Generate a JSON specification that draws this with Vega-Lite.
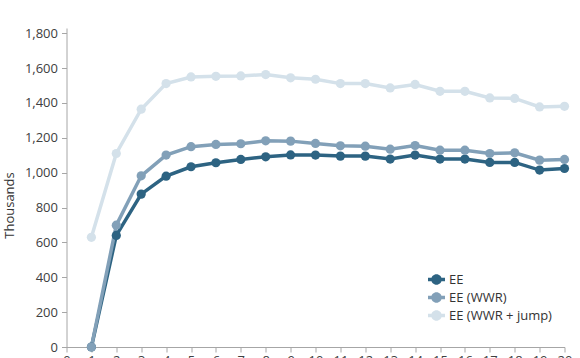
{
  "$schema": "https://vega.github.io/schema/vega-lite/v6.json",
  "width": 498,
  "height": 319,
  "autosize": "none",
  "padding": {"left": 66.5, "top": 28, "right": 15.5, "bottom": 11},
  "config": {"view": {"stroke": null}, "font": "Open Sans"},
  "data": {
    "values": [
      {"year": 1, "series": "EE", "value": 0},
      {"year": 2, "series": "EE", "value": 640},
      {"year": 3, "series": "EE", "value": 877},
      {"year": 4, "series": "EE", "value": 980},
      {"year": 5, "series": "EE", "value": 1034},
      {"year": 6, "series": "EE", "value": 1057},
      {"year": 7, "series": "EE", "value": 1076},
      {"year": 8, "series": "EE", "value": 1091},
      {"year": 9, "series": "EE", "value": 1102},
      {"year": 10, "series": "EE", "value": 1101},
      {"year": 11, "series": "EE", "value": 1095},
      {"year": 12, "series": "EE", "value": 1095},
      {"year": 13, "series": "EE", "value": 1078},
      {"year": 14, "series": "EE", "value": 1101},
      {"year": 15, "series": "EE", "value": 1078},
      {"year": 16, "series": "EE", "value": 1078},
      {"year": 17, "series": "EE", "value": 1059},
      {"year": 18, "series": "EE", "value": 1059},
      {"year": 19, "series": "EE", "value": 1015},
      {"year": 20, "series": "EE", "value": 1024},
      {"year": 1, "series": "EE (WWR)", "value": 0},
      {"year": 2, "series": "EE (WWR)", "value": 699},
      {"year": 3, "series": "EE (WWR)", "value": 982},
      {"year": 4, "series": "EE (WWR)", "value": 1101},
      {"year": 5, "series": "EE (WWR)", "value": 1149},
      {"year": 6, "series": "EE (WWR)", "value": 1162},
      {"year": 7, "series": "EE (WWR)", "value": 1166},
      {"year": 8, "series": "EE (WWR)", "value": 1183},
      {"year": 9, "series": "EE (WWR)", "value": 1181},
      {"year": 10, "series": "EE (WWR)", "value": 1168},
      {"year": 11, "series": "EE (WWR)", "value": 1154},
      {"year": 12, "series": "EE (WWR)", "value": 1152},
      {"year": 13, "series": "EE (WWR)", "value": 1135},
      {"year": 14, "series": "EE (WWR)", "value": 1156},
      {"year": 15, "series": "EE (WWR)", "value": 1129},
      {"year": 16, "series": "EE (WWR)", "value": 1129},
      {"year": 17, "series": "EE (WWR)", "value": 1110},
      {"year": 18, "series": "EE (WWR)", "value": 1114},
      {"year": 19, "series": "EE (WWR)", "value": 1072},
      {"year": 20, "series": "EE (WWR)", "value": 1076},
      {"year": 1, "series": "EE (WWR + jump)", "value": 629},
      {"year": 2, "series": "EE (WWR + jump)", "value": 1110},
      {"year": 3, "series": "EE (WWR + jump)", "value": 1364},
      {"year": 4, "series": "EE (WWR + jump)", "value": 1511},
      {"year": 5, "series": "EE (WWR + jump)", "value": 1549},
      {"year": 6, "series": "EE (WWR + jump)", "value": 1553},
      {"year": 7, "series": "EE (WWR + jump)", "value": 1555},
      {"year": 8, "series": "EE (WWR + jump)", "value": 1563},
      {"year": 9, "series": "EE (WWR + jump)", "value": 1544},
      {"year": 10, "series": "EE (WWR + jump)", "value": 1536},
      {"year": 11, "series": "EE (WWR + jump)", "value": 1511},
      {"year": 12, "series": "EE (WWR + jump)", "value": 1511},
      {"year": 13, "series": "EE (WWR + jump)", "value": 1486},
      {"year": 14, "series": "EE (WWR + jump)", "value": 1506},
      {"year": 15, "series": "EE (WWR + jump)", "value": 1467},
      {"year": 16, "series": "EE (WWR + jump)", "value": 1467},
      {"year": 17, "series": "EE (WWR + jump)", "value": 1429},
      {"year": 18, "series": "EE (WWR + jump)", "value": 1426},
      {"year": 19, "series": "EE (WWR + jump)", "value": 1377},
      {"year": 20, "series": "EE (WWR + jump)", "value": 1381}
    ]
  },
  "mark": {
    "type": "line",
    "strokeWidth": 3.5,
    "point": {"filled": true, "size": 85, "opacity": 1}
  },
  "encoding": {
    "x": {
      "field": "year",
      "type": "quantitative",
      "scale": {"domain": [0, 20], "nice": false, "zero": false},
      "axis": {
        "title": null,
        "grid": false,
        "values": [0,1,2,3,4,5,6,7,8,9,10,11,12,13,14,15,16,17,18,19,20],
        "domainColor": "#a6a6a6",
        "tickColor": "#a6a6a6",
        "tickSize": 5,
        "labelFontSize": 13,
        "labelColor": "#404040",
        "labelPadding": 2,
        "labelFlush": false,
        "labelOverlap": false
      }
    },
    "y": {
      "field": "value",
      "type": "quantitative",
      "scale": {"domain": [0, 1830], "nice": false},
      "axis": {
        "title": "Thousands",
        "titleFontSize": 13,
        "titleFontWeight": "normal",
        "titleColor": "#333333",
        "titlePadding": 8,
        "titleY": 177,
        "grid": false,
        "values": [0, 200, 400, 600, 800, 1000, 1200, 1400, 1600, 1800],
        "format": ",.0f",
        "domainColor": "#a6a6a6",
        "tickColor": "#a6a6a6",
        "tickSize": 5,
        "labelFontSize": 13,
        "labelColor": "#404040",
        "labelPadding": 4
      }
    },
    "color": {
      "field": "series",
      "type": "nominal",
      "scale": {
        "domain": ["EE", "EE (WWR)", "EE (WWR + jump)"],
        "range": ["#2d6382", "#82a0b8", "#d4e1ea"]
      },
      "legend": {
        "title": null,
        "orient": "none",
        "legendX": 361.5,
        "legendY": 243,
        "labelFontSize": 13,
        "labelColor": "#333333",
        "labelOffset": 4,
        "rowPadding": 2,
        "symbolSize": 289,
        "symbolStrokeWidth": 0,
        "symbolType": "M-1,-0.2L1,-0.2L1,0.2L-1,0.2Z M0.62,0A0.62,0.62 0 1,1 -0.62,0A0.62,0.62 0 1,1 0.62,0Z",
        "encode": {
          "symbols": {
            "update": {
              "fill": {"signal": "scale('color', datum.value)"},
              "stroke": {"value": "transparent"},
              "opacity": {"value": 1}
            }
          }
        }
      }
    }
  }
}
